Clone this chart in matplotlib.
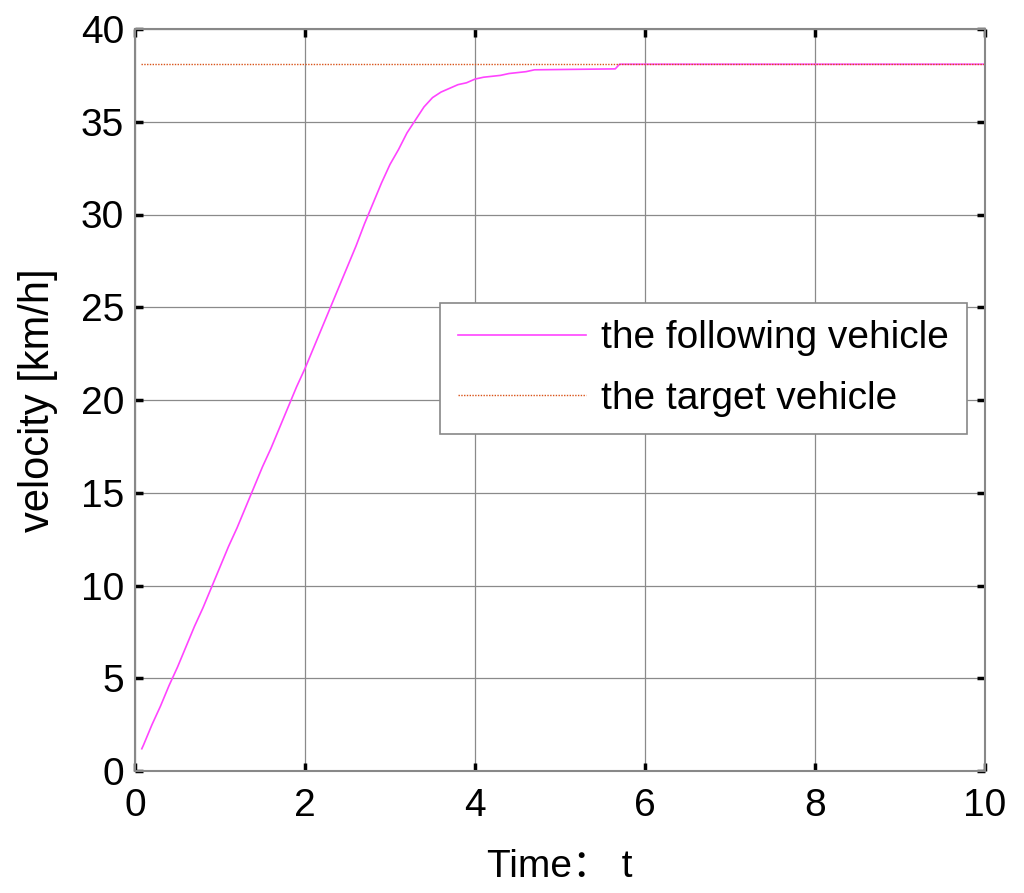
import matplotlib
matplotlib.use("Agg")
import matplotlib.pyplot as plt

# Data
t_follow = [0.08, 0.1, 0.2, 0.3, 0.4, 0.5, 0.6, 0.7, 0.8, 0.9, 1.0, 1.1, 1.2, 1.3, 1.4,
            1.5, 1.6, 1.7, 1.8, 1.9, 2.0, 2.1, 2.2, 2.3, 2.4, 2.5, 2.6, 2.7, 2.8, 2.9,
            3.0, 3.1, 3.2, 3.3, 3.4, 3.5, 3.6, 3.7, 3.8, 3.9, 4.0, 4.1, 4.2, 4.3, 4.4,
            4.5, 4.6, 4.7, 5.65, 5.7, 10.0]
v_follow = [1.2, 1.4, 2.5, 3.5, 4.6, 5.6, 6.7, 7.8, 8.8, 9.9, 11.0, 12.1, 13.1, 14.2, 15.3,
            16.4, 17.4, 18.5, 19.6, 20.7, 21.7, 22.8, 23.9, 25.0, 26.1, 27.2, 28.3, 29.5, 30.6, 31.7,
            32.7, 33.5, 34.4, 35.1, 35.8, 36.3, 36.6, 36.8, 37.0, 37.1, 37.3, 37.4, 37.45, 37.5, 37.6,
            37.65, 37.7, 37.8, 37.85, 38.1, 38.1]
t_target = [0.07, 10.0]
v_target = [38.1, 38.1]

x_ticks = [0, 2, 4, 6, 8, 10]
y_ticks = [0, 5, 10, 15, 20, 25, 30, 35, 40]

plt.rcParams['font.family'] = ['Liberation Sans', 'Noto Sans CJK SC', 'DejaVu Sans']

fig = plt.figure(figsize=(10.24, 8.93), dpi=100)
ax = fig.add_axes([135/1024, 1 - 771/893, 850/1024, 742/893])

ax.plot(t_follow, v_follow, color='#FF44FF', linewidth=1.2,
        label='the following vehicle')
ax.plot(t_target, v_target, color='#D95319', linewidth=1.0, linestyle=(0, (1, 1)),
        label='the target vehicle')

ax.set_xlim(0, 10)
ax.set_ylim(0, 40)
ax.set_xticks(x_ticks)
ax.set_yticks(y_ticks)
ax.grid(True, color='#8a8a8a', linewidth=0.9)
for s in ax.spines.values():
    s.set_color('#888888')
    s.set_linewidth(1.5)
ax.tick_params(axis='both', direction='in', length=6, width=2.5, color='black',
               labelsize=28, top=True, right=True)
ax.tick_params(axis='x', pad=12)
ax.tick_params(axis='y', pad=8)

ax.set_xlabel('Time： t', fontsize=28, labelpad=18)
ax.set_ylabel('velocity [km/h]', fontsize=30, labelpad=16)

leg = ax.legend(loc='upper left', bbox_to_anchor=(440/1024, 1 - 303/893),
                bbox_transform=fig.transFigure, borderaxespad=0, fontsize=28,
                handlelength=3.3, handletextpad=0.4, fancybox=False, framealpha=1,
                edgecolor='#888888', borderpad=0.45, labelspacing=0.62)
leg.get_frame().set_linewidth(1.2)

fig.savefig('out.png', dpi=100)
